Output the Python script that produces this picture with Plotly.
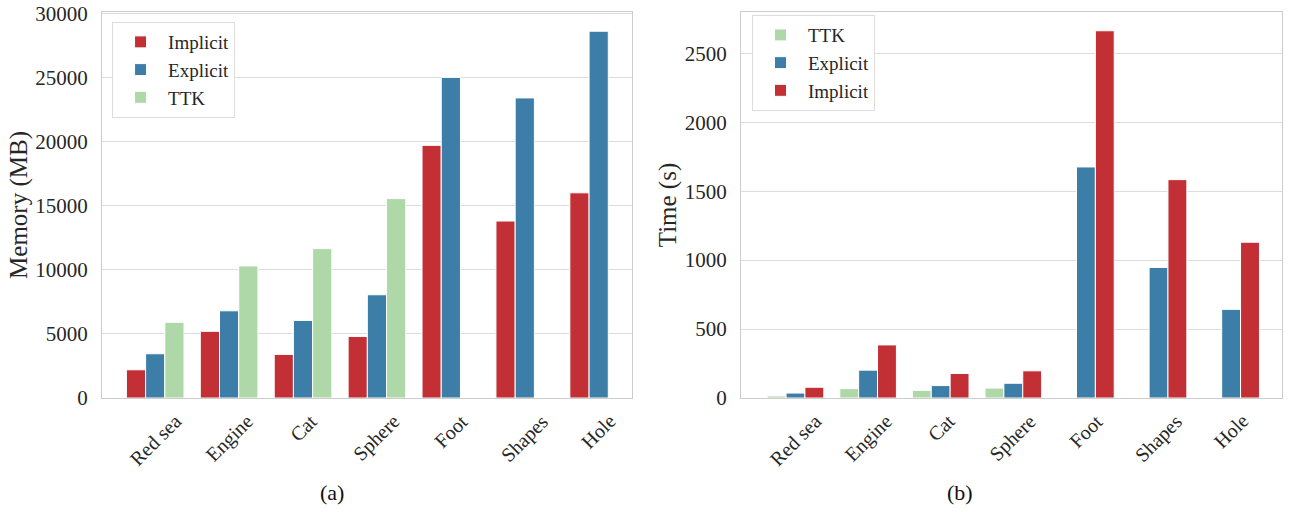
import plotly.graph_objects as go
from plotly.subplots import make_subplots

categories = ["Red sea", "Engine", "Cat", "Sphere", "Foot", "Shapes", "Hole"]

mem_implicit = [2200, 5200, 3400, 4800, 19700, 13800, 16000]
mem_explicit = [3450, 6800, 6050, 8050, 25000, 23400, 28600]
mem_ttk = [5900, 10300, 11650, 15550, None, None, None]

time_ttk = [15, 68, 55, 72, None, None, None]
time_explicit = [36, 202, 90, 107, 1676, 947, 643]
time_implicit = [78, 385, 178, 197, 2664, 1584, 1130]

mem_ticks = [0, 5000, 10000, 15000, 20000, 25000, 30000]
time_ticks = [0, 500, 1000, 1500, 2000, 2500]

RED = "#c22f35"
BLUE = "#3d7ea8"
GREEN = "#afd8a8"
FONT = "Liberation Serif"
TXT = "#262626"

fig = make_subplots(rows=1, cols=2)

def bar(name, y, color, legend):
    return go.Bar(x=categories, y=y, name=name,
                  marker=dict(color=color, line=dict(color="white", width=1)),
                  legend=legend, showlegend=True)

fig.add_trace(bar("Implicit", mem_implicit, RED, "legend"), row=1, col=1)
fig.add_trace(bar("Explicit", mem_explicit, BLUE, "legend"), row=1, col=1)
fig.add_trace(bar("TTK", mem_ttk, GREEN, "legend"), row=1, col=1)

fig.add_trace(bar("TTK", time_ttk, GREEN, "legend2"), row=1, col=2)
fig.add_trace(bar("Explicit", time_explicit, BLUE, "legend2"), row=1, col=2)
fig.add_trace(bar("Implicit", time_implicit, RED, "legend2"), row=1, col=2)

axis_common = dict(showline=True, linecolor="#cccccc", linewidth=1.2, mirror=True,
                   ticks="", automargin=False)

fig.update_xaxes(**axis_common, showgrid=False, showticklabels=False)
fig.update_yaxes(**axis_common, showgrid=True, gridcolor="#dddddd", gridwidth=1,
                 zeroline=False, ticklabelstandoff=9, ticklabeloverflow="allow",
                 tickfont=dict(family=FONT, size=21, color=TXT))

legend_common = dict(xanchor="left", yanchor="top", bgcolor="white",
                     bordercolor="#dddddd", borderwidth=1,
                     font=dict(family=FONT, size=19, color=TXT),
                     itemwidth=45, tracegroupgap=6)

# category labels under each axis, centred on their group like the original
label_anns = []
for xref, yref in (("x", "y"), ("x2", "y2")):
    for cat in categories:
        label_anns.append(dict(text=cat, x=cat, y=0, xref=xref, yref=yref,
                               xanchor="center", yanchor="top", yshift=-9,
                               textangle=-45, showarrow=False,
                               font=dict(family=FONT, size=20, color=TXT)))

fig.update_layout(
    width=1291, height=512,
    margin=dict(l=0, r=0, t=12, b=114),
    plot_bgcolor="white", paper_bgcolor="white",
    barmode="group", bargap=0.22, bargroupgap=0,
    font=dict(family=FONT, color=TXT),
    xaxis=dict(domain=[0.0790, 0.4895], range=[-0.72, 6.45]),
    xaxis2=dict(domain=[0.574, 0.993], range=[-0.75, 6.70]),
    yaxis=dict(range=[0, 30100], tickvals=mem_ticks, ticktext=[str(v) for v in mem_ticks],
               title=dict(text="Memory (MB)", font=dict(family=FONT, size=25, color=TXT), standoff=0)),
    yaxis2=dict(range=[0, 2800], tickvals=time_ticks, ticktext=[str(v) for v in time_ticks],
                title=dict(text="Time (s)", font=dict(family=FONT, size=25, color=TXT), standoff=0)),
    legend=dict(x=0.0868, y=0.974, **legend_common),
    legend2=dict(x=0.5825, y=0.992, **legend_common),
    annotations=label_anns + [
        dict(text="(a)", x=0.2463, y=-0.246, xref="paper", yref="paper", yanchor="middle",
             showarrow=False, font=dict(family=FONT, size=22, color="#111111")),
        dict(text="(b)", x=0.7552, y=-0.246, xref="paper", yref="paper", yanchor="middle",
             showarrow=False, font=dict(family=FONT, size=22, color="#111111")),
    ],
)

fig.write_html("out.html", config={"displayModeBar": False},
               post_script="document.body.style.margin='0';document.body.style.overflow='hidden';")
